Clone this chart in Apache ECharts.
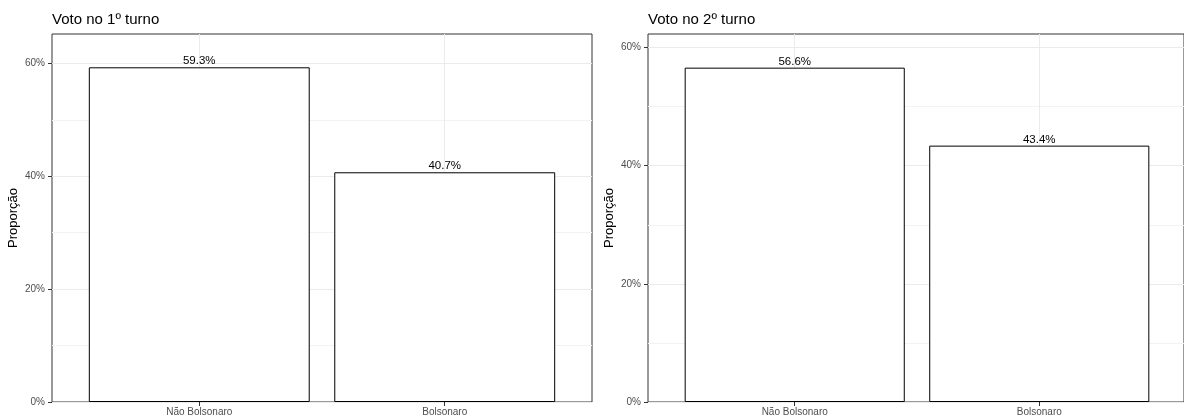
<!DOCTYPE html>
<html><head><meta charset="utf-8">
<script src="https://cdn.jsdelivr.net/npm/echarts@6/dist/echarts.min.js"></script>
<style>html,body{margin:0;padding:0;background:#fff}#c{width:1184px;height:417px}</style>
</head><body><div id="c"></div>
<script>
const categories = ['Não Bolsonaro', 'Bolsonaro'];
const panelTitles = ['Voto no 1º turno', 'Voto no 2º turno'];
const turno1 = [59.3, 40.7];
const turno2 = [56.6, 43.4];
const yTicks = [0, 20, 40, 60];
const yMinorTicks = [10, 30, 50];
const yMax = [65.2, 62.3];
const yName = 'Proporção';

const FONT = 'Liberation Sans, Arial, sans-serif';
const panels = [turno1, turno2];
// right panel is cut off by the image edge: keep the same unit size, shorter extent
const gridPos = [{left: 52, width: 540, xMax: 2.6}, {left: 648, width: 537, xMax: 0.4 + 537 / 245}];
const catPos = categories.map((c, j) => j + 1);

const option = {
  animation: false,
  backgroundColor: '#fff',
  textStyle: {fontFamily: FONT},
  title: panels.map((p, i) => ({
    text: panelTitles[i], left: gridPos[i].left, top: 12, padding: 0,
    textStyle: {fontSize: 15, fontWeight: 'normal', color: '#000', fontFamily: FONT}
  })),
  grid: panels.map((p, i) => ({
    left: gridPos[i].left, width: gridPos[i].width, top: 34, height: 368,
    show: true, borderColor: '#333', borderWidth: 1, backgroundColor: 'transparent'
  })),
  xAxis: panels.map((p, i) => ({
    type: 'value', gridIndex: i, min: 0.4, max: gridPos[i].xMax,
    axisLine: {show: false},
    axisTick: {show: true, length: 4, customValues: catPos, lineStyle: {color: '#333'}},
    axisLabel: {customValues: catPos, formatter: v => categories[Math.round(v) - 1] || '',
      fontSize: 10, color: '#4D4D4D', margin: 5, fontFamily: FONT},
    splitLine: {show: true, lineStyle: {color: '#EBEBEB', width: 1}}
  })),
  yAxis: [].concat(...panels.map((p, i) => ([
    {
      type: 'value', gridIndex: i, min: 0, max: yMax[i],
      axisLine: {show: false},
      axisTick: {show: true, length: 4, customValues: yTicks, lineStyle: {color: '#333'}},
      axisLabel: {customValues: yTicks, formatter: v => v + '%', fontSize: 10, color: '#4D4D4D', margin: 7, fontFamily: FONT},
      splitLine: {show: true, lineStyle: {color: '#EBEBEB', width: 1}},
      name: yName, nameLocation: 'middle', nameGap: 32,
      nameTextStyle: {fontSize: 13, color: '#000', fontFamily: FONT}
    },
    {
      type: 'value', gridIndex: i, min: 0, max: yMax[i],
      axisLine: {show: false},
      axisTick: {show: false, customValues: yMinorTicks},
      axisLabel: {show: false, customValues: yMinorTicks},
      splitLine: {show: true, lineStyle: {color: '#F3F3F3', width: 1}}
    }
  ]))),
  series: panels.map((vals, i) => ({
    type: 'bar', xAxisIndex: i, yAxisIndex: 2 * i,
    data: vals.map((v, j) => [catPos[j], v]),
    barWidth: '90%',
    itemStyle: {color: '#fff', borderColor: '#000', borderWidth: 1},
    label: {show: true, position: 'top', distance: 0, color: '#000', fontSize: 11.5, fontFamily: FONT,
      formatter: p => p.value[1].toFixed(1) + '%'}
  }))
};
const chart = echarts.init(document.getElementById('c'));
chart.setOption(option);
</script></body></html>
